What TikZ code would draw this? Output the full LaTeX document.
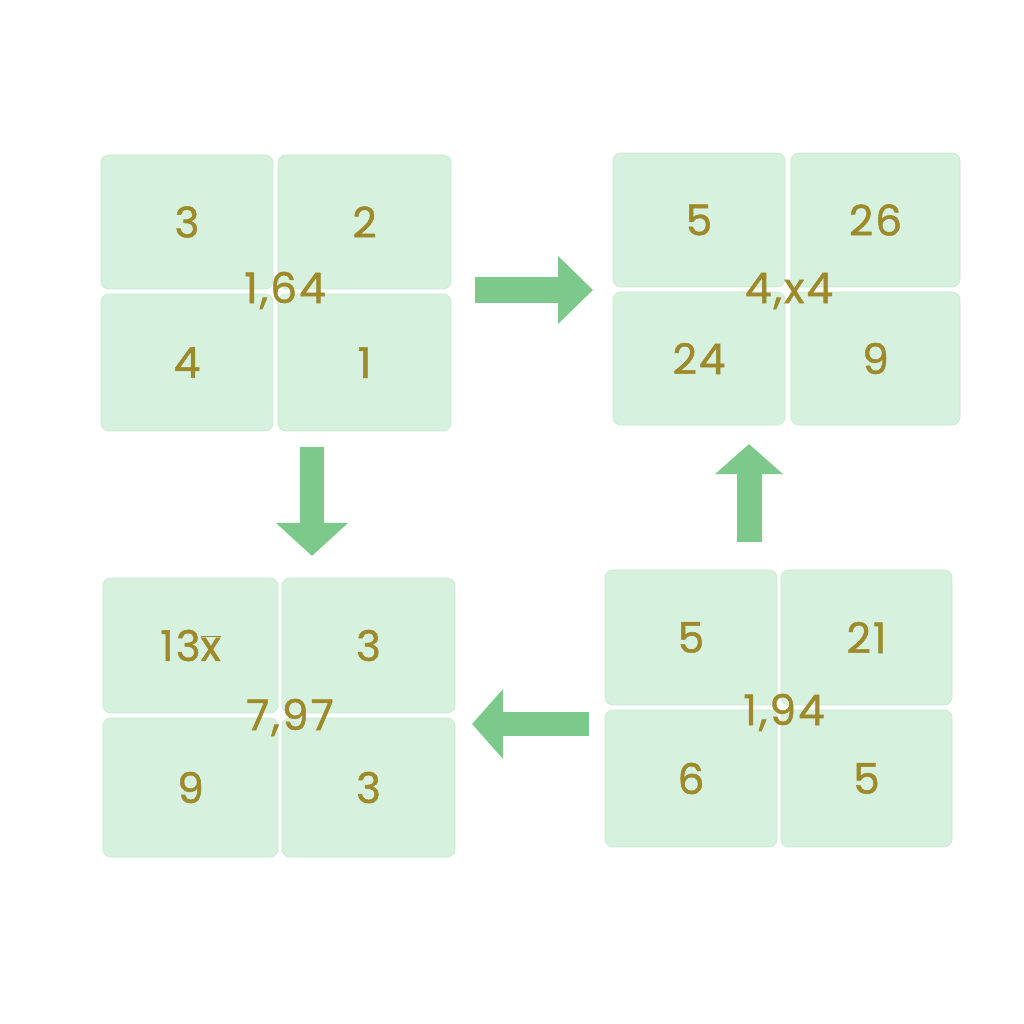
\documentclass[tikz,border=0pt]{standalone}
\usepackage{fontspec}
\setmainfont{Poppins}
\newfontfamily\numfont[FakeBold=1.2, LetterSpace=5]{Poppins}
\usetikzlibrary{arrows.meta}
\definecolor{tilegreen}{HTML}{D6F1DD}
\definecolor{tileedge}{HTML}{CCEAD4}
\definecolor{goldtext}{HTML}{9E8A2A}
\definecolor{arrowgreen}{HTML}{7DC98B}
\tikzset{
  tile/.style={fill=tilegreen, draw=tileedge, line width=0.6pt, rounded corners=0.2cm,
    inner sep=0pt, text=goldtext, font=\numfont\fontsize{30}{32}\selectfont},
  midlabel/.style={anchor=base, inner sep=0pt, text=goldtext, font=\numfont\fontsize{30}{32}\selectfont},
  blockarrow/.style={draw=arrowgreen, fill=arrowgreen, line cap=butt}
}
\begin{document}
\begin{tikzpicture}[x=0.025cm, y=-0.025cm]
\useasboundingbox[fill=white] (0,0) rectangle (1024,1024);

% group 1 (top left)
\node[tile, minimum width=4.3cm, minimum height=3.35cm] (a1) at (187,222) {3};
\node[tile, minimum width=4.325cm, minimum height=3.35cm] (a2) at (364.5,222) {2};
\node[tile, minimum width=4.3cm, minimum height=3.425cm] (a3) at (187,362.5) {4};
\node[tile, minimum width=4.325cm, minimum height=3.425cm] (a4) at (364.5,362.5) {1};
\node[midlabel] (am) at (285,303) {1,64};

% group 2 (top right)
\node[tile, minimum width=4.3cm, minimum height=3.35cm] (b1) at (699,220) {5};
\node[tile, minimum width=4.225cm, minimum height=3.35cm] (b2) at (875.5,220) {26};
\node[tile, minimum width=4.3cm, minimum height=3.325cm] (b3) at (699,358.5) {24};
\node[tile, minimum width=4.225cm, minimum height=3.325cm] (b4) at (875.5,358.5) {9};
\node[midlabel] (bm) at (789,303) {4,x4};

% group 3 (bottom left)
\node[tile, minimum width=4.375cm, minimum height=3.375cm] (c1) at (190.5,645.5) {13\ensuremath{\overline{\mbox{x}}}};
\node[tile, minimum width=4.325cm, minimum height=3.375cm] (c2) at (368.5,645.5) {3};
\node[tile, minimum width=4.375cm, minimum height=3.475cm] (c3) at (190.5,787.5) {9};
\node[tile, minimum width=4.325cm, minimum height=3.475cm] (c4) at (368.5,787.5) {3};
\node[midlabel] (cm) at (290,730) {7,97};

% group 4 (bottom right)
\node[tile, minimum width=4.3cm, minimum height=3.375cm] (d1) at (691,637.5) {5};
\node[tile, minimum width=4.275cm, minimum height=3.375cm] (d2) at (866.5,637.5) {21};
\node[tile, minimum width=4.3cm, minimum height=3.425cm] (d3) at (691,778.5) {6};
\node[tile, minimum width=4.275cm, minimum height=3.425cm] (d4) at (866.5,778.5) {5};
\node[midlabel] (dm) at (784,725) {1,94};

% arrow end points
\coordinate (r0) at (475,290); \coordinate (r1) at (593,290);
\coordinate (dn0) at (312,447); \coordinate (dn1) at (312,556);
\coordinate (u0) at (749,542); \coordinate (u1) at (749,444);
\coordinate (l0) at (589,724); \coordinate (l1) at (472,724);

\draw[blockarrow, line width=0.65cm, -{Triangle[length=0.875cm, width=1.65cm]}] (r0) -- (r1);
\draw[blockarrow, line width=0.6cm, -{Triangle[length=0.825cm, width=1.75cm]}] (dn0) -- (dn1);
\draw[blockarrow, line width=0.625cm, -{Triangle[length=0.75cm, width=1.65cm]}] (u0) -- (u1);
\draw[blockarrow, line width=0.6cm, -{Triangle[length=0.775cm, width=1.7cm]}] (l0) -- (l1);
\end{tikzpicture}
\end{document}
